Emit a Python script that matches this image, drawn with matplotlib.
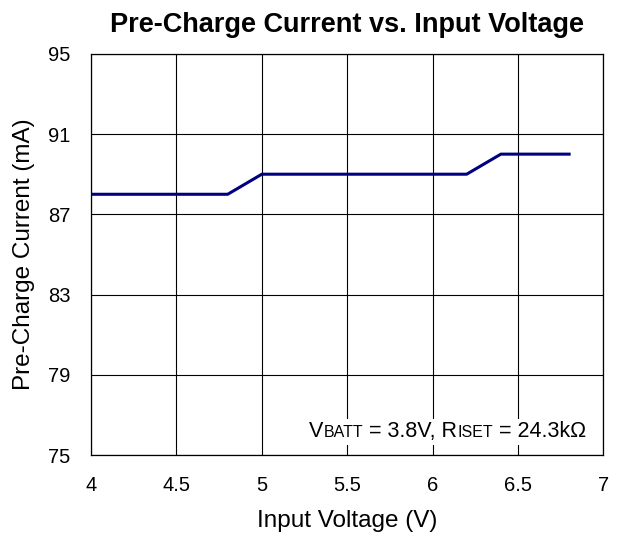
import matplotlib
matplotlib.use("Agg")
import matplotlib.pyplot as plt
from matplotlib.offsetbox import TextArea, HPacker, AnchoredOffsetbox

plt.rcParams['font.family'] = ['Liberation Sans', 'DejaVu Sans']

# data
vin = [4.0, 4.8, 5.0, 6.2, 6.4, 6.8]
ichg = [88.0, 88.0, 89.0, 89.0, 90.0, 90.0]

xticks = [4, 4.5, 5, 5.5, 6, 6.5, 7]
xlabels = ["4", "4.5", "5", "5.5", "6", "6.5", "7"]
yticks = [75, 79, 83, 87, 91, 95]

fig = plt.figure(figsize=(6.2, 5.38), dpi=100)
ax = fig.add_axes([0.147, 0.154, 0.826, 0.746])

ax.plot(vin, ichg, color="#000080", linewidth=2.2)

ax.set_xlim(4, 7)
ax.set_ylim(75, 95)
ax.set_xticks(xticks)
ax.set_xticklabels(xlabels)
ax.set_yticks(yticks)
ax.grid(True, color="black", linewidth=0.8)
ax.tick_params(labelsize=14.5, length=0)
ax.tick_params(axis="x", pad=15)
ax.tick_params(axis="y", pad=15)
for s in ax.spines.values():
    s.set_linewidth(0.9)

ax.set_title("Pre-Charge Current vs. Input Voltage", fontsize=19.5,
             fontweight="bold", pad=16)
ax.set_xlabel("Input Voltage (V)", fontsize=17.5, labelpad=11)
ax.set_ylabel("Pre-Charge Current (mA)", fontsize=17.5, labelpad=9)

big = dict(fontsize=15.5, color="black")
small = dict(fontsize=11.5, color="black")
parts = [
    TextArea("V", textprops=big),
    TextArea("BATT", textprops=small),
    TextArea(" = 3.8V, R", textprops=big),
    TextArea("ISET", textprops=small),
    TextArea(" = 24.3k\u03a9", textprops=big),
]
box = HPacker(children=parts, align="baseline", pad=0, sep=0)
anch = AnchoredOffsetbox(loc="lower right", child=box, pad=0.2,
                         frameon=True, bbox_to_anchor=(0.972, 0.025),
                         bbox_transform=ax.transAxes, borderpad=0)
anch.patch.set_facecolor("white")
anch.patch.set_edgecolor("none")
ax.add_artist(anch)

fig.savefig("out.png", dpi=100)
